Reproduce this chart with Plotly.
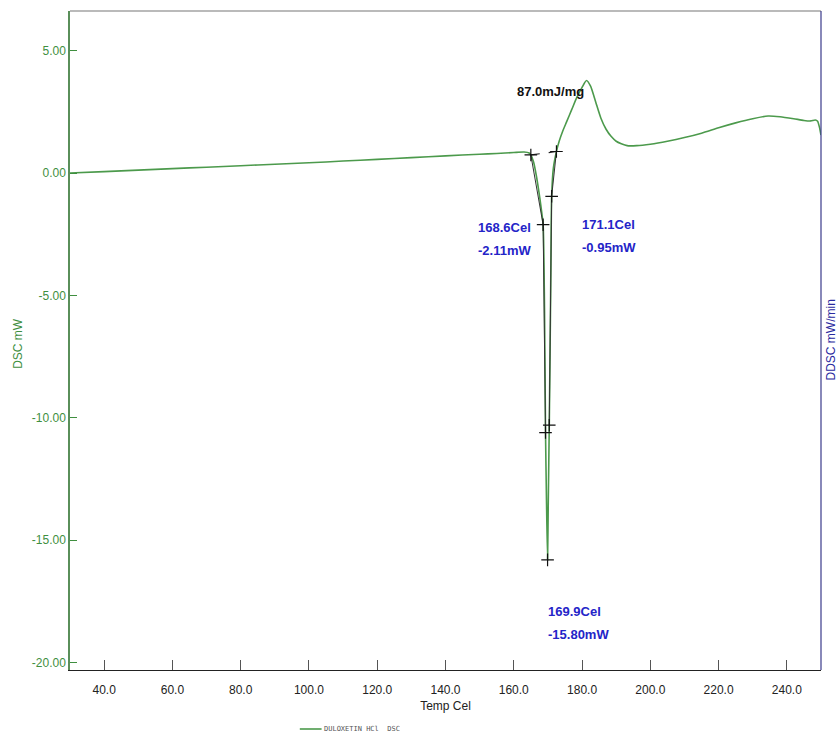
import plotly.graph_objects as go

# DSC curve (Temp Cel, DSC mW)
temp = [30, 40, 50, 60, 70, 80, 90, 100, 110, 120, 130, 140, 150, 155, 160, 163, 164.5,
        165.0, 165.8, 166.6, 167.4, 168.0, 168.6, 169.0, 169.3, 169.6, 169.9, 170.1, 170.4,
        170.8, 171.1, 171.6, 172.5, 173.3, 174.3, 175.5, 177.0, 178.5, 180.0, 181.3, 182.5,
        184.0, 185.5, 187.0, 188.5, 190.0, 191.5, 193.2, 196.0, 200.0, 205.0, 210.0, 215.0,
        220.0, 225.0, 230.0, 234.5, 238.0, 242.0, 245.0, 247.0, 248.3, 249.0, 249.5, 250.0]
dsc = [0.0, 0.06, 0.12, 0.18, 0.24, 0.30, 0.36, 0.42, 0.49, 0.56, 0.63, 0.70, 0.77, 0.80, 0.84, 0.86, 0.82,
       0.74, 0.45, -0.1, -0.8, -1.4, -2.11, -5.5, -10.6, -13.5, -15.8, -13.5, -10.3,
       -5.0, -0.95, 0.2, 0.88, 1.3, 1.7, 2.1, 2.6, 3.1, 3.5, 3.78, 3.55,
       2.9, 2.25, 1.8, 1.5, 1.3, 1.2, 1.12, 1.12, 1.18, 1.3, 1.45, 1.63,
       1.85, 2.05, 2.22, 2.33, 2.3, 2.22, 2.15, 2.13, 2.17, 2.12, 1.9, 1.55]

# analysis markers
mark_t = [165.0, 172.5, 168.6, 171.1, 169.3, 170.4, 169.9]
mark_v = [0.74, 0.88, -2.11, -0.95, -10.6, -10.3, -15.8]

# tangent construction lines
base_t = [165.0, 172.5]
base_v = [0.74, 0.88]
left_t = [165.0, 168.6, 169.3]
left_v = [0.74, -2.11, -10.6]
right_t = [172.5, 171.1, 170.4]
right_v = [0.88, -0.95, -10.3]

# result labels: (temperature text, signal text)
labels_temp = ["168.6Cel", "171.1Cel", "169.9Cel"]
labels_sig = ["-2.11mW", "-0.95mW", "-15.80mW"]
heat_text = "87.0mJ/mg"

x_ticks = [40, 60, 80, 100, 120, 140, 160, 180, 200, 220, 240]
y_ticks = [5, 0, -5, -10, -15, -20]

GREEN = "#3f8f3f"
BLUE = "#2424c8"
FONT = "Liberation Sans, Arial"

fig = go.Figure()
fig.add_trace(go.Scatter(x=temp, y=dsc, mode="lines", name="DULOXETIN HCl  DSC", showlegend=False,
                         line=dict(color="#4c9a4c", width=1.6, shape="spline", smoothing=0.6)))
fig.add_trace(go.Scatter(x=base_t, y=base_v, mode="lines", showlegend=False,
                         line=dict(color="#222222", width=1.2, dash="dash")))
fig.add_trace(go.Scatter(x=left_t, y=left_v, mode="lines", showlegend=False,
                         line=dict(color="#333333", width=1)))
fig.add_trace(go.Scatter(x=right_t, y=right_v, mode="lines", showlegend=False,
                         line=dict(color="#333333", width=1)))
fig.add_trace(go.Scatter(x=mark_t, y=mark_v, mode="markers", showlegend=False,
                         marker=dict(symbol="cross-thin", size=9,
                                     line=dict(color="#111111", width=1.2))))

fig.add_annotation(x=170.7, y=3.35, text="<b>" + heat_text + "</b>", showarrow=False,
                   xanchor="center", yanchor="middle",
                   font=dict(family=FONT, size=13, color="#111111"))
# label anchor positions (left edge, first-line centre, second-line centre)
label_pos = [(149.0, -2.24, -3.18), (179.5, -2.12, -3.06), (169.5, -17.92, -18.86)]
for t_txt, s_txt, (lx, y1, y2) in zip(labels_temp, labels_sig, label_pos):
    for txt, yy in ((t_txt, y1), (s_txt, y2)):
        fig.add_annotation(x=lx, y=yy, text="<b>" + txt + "</b>", showarrow=False,
                           xanchor="left", yanchor="middle", align="left",
                           font=dict(family=FONT, size=13, color=BLUE))

fig.add_annotation(xref="paper", yref="paper", x=0, xshift=-52, y=0.495, text="DSC mW",
                   textangle=-90, showarrow=False, xanchor="center", yanchor="middle",
                   font=dict(family=FONT, size=12, color=GREEN))
fig.add_annotation(xref="paper", yref="paper", x=1.0, xshift=9, y=0.5, text="DDSC mW/min",
                   textangle=-90, showarrow=False, xanchor="center", yanchor="middle",
                   font=dict(family=FONT, size=12, color="#2a2aa0"))

# legend (drawn as text + sample line)
fig.add_annotation(xref="paper", yref="paper", x=0.335, y=0, yshift=-59,
                   text="DULOXETIN HCl  DSC", showarrow=False, xanchor="left", yanchor="middle",
                   font=dict(family="DejaVu Sans Mono, monospace", size=7, color="#555555"))
fig.add_shape(type="line", xref="paper", yref="paper", x0=0.306, x1=0.335,
              y0=-59 / 659, y1=-59 / 659, line=dict(color="#4c9a4c", width=1.6))

fig.update_layout(
    width=838, height=736,
    margin=dict(l=70, r=17, t=11, b=66, autoexpand=False),
    paper_bgcolor="white", plot_bgcolor="white",
    showlegend=False,
    xaxis=dict(range=[30, 250], tickvals=x_ticks, ticktext=[f"{v:.1f}" for v in x_ticks],
               ticks="inside", ticklen=10, tickcolor="#555555", showgrid=False, zeroline=False,
               showline=True, linecolor="#222222", linewidth=1.2, mirror=False,
               ticklabelstandoff=8,
               tickfont=dict(family=FONT, size=12, color="#222222"),
               title=dict(text="Temp Cel", standoff=6,
                          font=dict(family=FONT, size=12, color="#222222"))),
    yaxis=dict(range=[-20.3, 6.62], tickvals=y_ticks, ticktext=[f"{v:.2f}" for v in y_ticks],
               ticks="inside", ticklen=7, tickcolor=GREEN, showgrid=False, zeroline=False,
               showline=True, linecolor="#5a8f5a", linewidth=1.5,
               tickfont=dict(family=FONT, size=12, color=GREEN)),
)
# top and right frame lines
fig.add_shape(type="line", xref="paper", yref="paper", x0=0, x1=1, y0=1, y1=1,
              line=dict(color="#777777", width=1.2))
fig.add_shape(type="line", xref="paper", yref="paper", x0=1, x1=1, y0=0, y1=1,
              line=dict(color="#3a3a8a", width=1.2))

# remove the default page margin so the figure fills the window exactly
fig.write_html("out.html", config={"displayModeBar": False},
               post_script="document.body.style.margin='0';document.body.style.overflow='hidden';")
